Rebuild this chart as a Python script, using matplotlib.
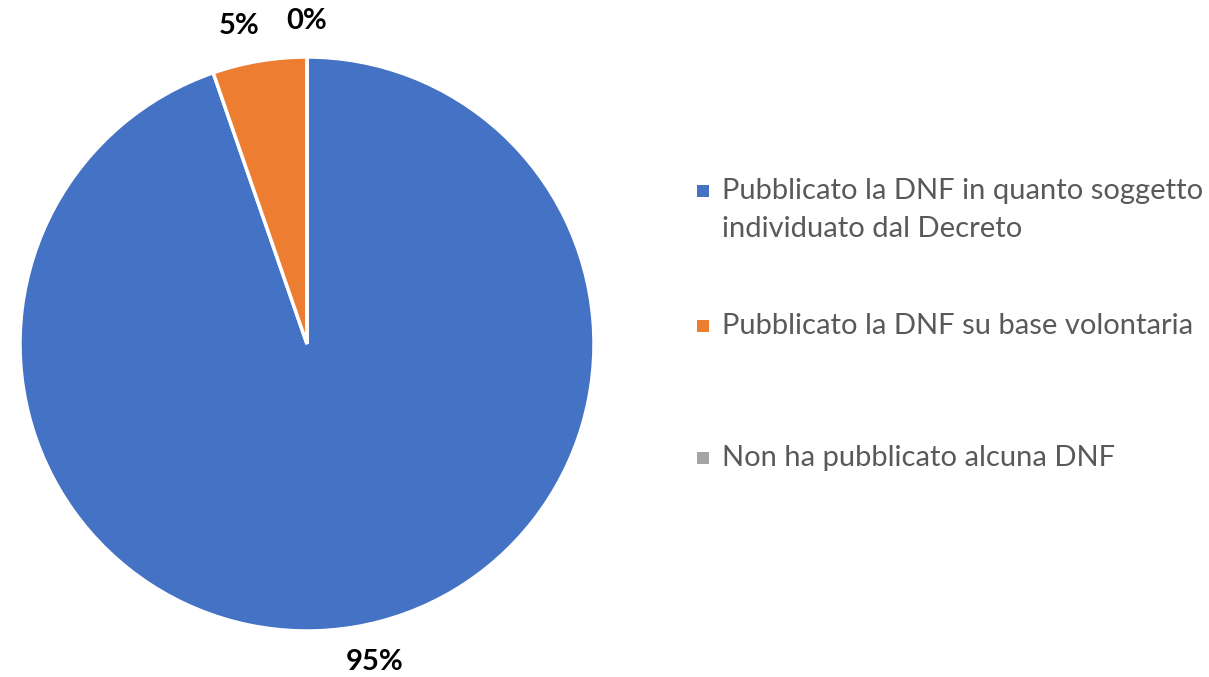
import numpy as np
import matplotlib

matplotlib.use("agg")
import matplotlib.pyplot as plt
from matplotlib.patches import Rectangle

# data
categories = [
    "Pubblicato la DNF in quanto soggetto\nindividuato dal Decreto",
    "Pubblicato la DNF su base volontaria",
    "Non ha pubblicato alcuna DNF",
]
shares = [94.7, 5.3, 0.0]
colors = ["#4472C4", "#ED7D31", "#A5A5A5"]

plt.rcParams["font.family"] = ["Lato", "DejaVu Sans"]

W, H = 1209, 677
fig = plt.figure(figsize=(W / 100, H / 100), dpi=100)

# pie: center (307, 344) px, radius 287 px
cx, cy, r = 307, 344, 287
ax = fig.add_axes([(cx - r) / W, (H - cy - r) / H, 2 * r / W, 2 * r / H])
wedges, _ = ax.pie(
    shares,
    colors=colors,
    startangle=90,
    counterclock=False,
    radius=1,
    wedgeprops=dict(edgecolor="white", linewidth=2.5),
)
ax.set_xlim(-1, 1)
ax.set_ylim(-1, 1)
ax.set_aspect("equal")
ax.axis("off")

# percentage labels outside each wedge
for w, v in zip(wedges, shares):
    mid = np.deg2rad((w.theta1 + w.theta2) / 2)
    ax.text(1.42 * np.cos(mid), 1.125 * np.sin(mid), f"{v:.0f}%",
            ha="center", va="center", fontsize=21, fontweight="bold",
            color="black", clip_on=False)

# legend drawn by hand so the wrapped entry lines up like the original
legend_y = [191, 326, 458]
for lab, col, y in zip(categories, colors, legend_y):
    fig.add_artist(Rectangle(((697) / W, (H - y - 6) / H), 12 / W, 12 / H,
                             transform=fig.transFigure, color=col, lw=0))
    fig.text(722 / W, (H - y + 13) / H, lab, ha="left", va="top",
             fontsize=21, color="#595959", linespacing=1.55)

fig.savefig("out.png", dpi=100, facecolor="white")
